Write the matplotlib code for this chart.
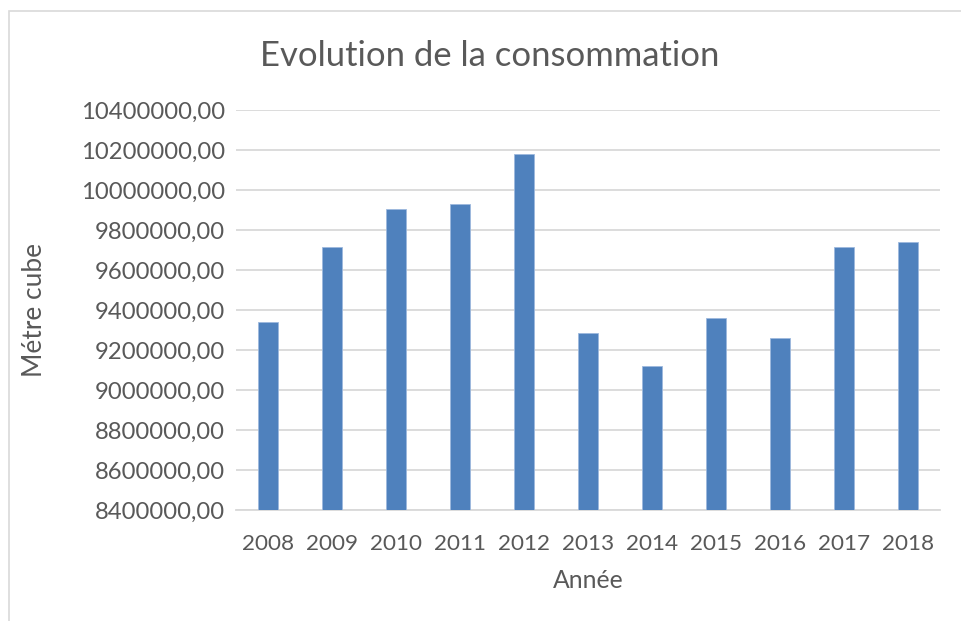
import matplotlib
matplotlib.use("Agg")
import matplotlib.pyplot as plt
from matplotlib.ticker import FuncFormatter
from matplotlib.patches import Rectangle

years = ["2008", "2009", "2010", "2011", "2012", "2013", "2014", "2015", "2016", "2017", "2018"]
consommation = [9339000, 9714000, 9906000, 9932500, 10181000, 9286000, 9122500, 9362500, 9259000, 9714000, 9742500]
yticks = [8400000, 8600000, 8800000, 9000000, 9200000, 9400000, 9600000, 9800000, 10000000, 10200000, 10400000]

txt = "#595959"
plt.rcParams['font.family'] = ['Lato', 'DejaVu Sans']

fig = plt.figure(figsize=(9.62, 6.21), dpi=100)
W, H = 962, 621
ax = fig.add_axes([236 / W, 1 - 510 / H, (940 - 236) / W, 400 / H])

x = list(range(len(years)))
ax.bar(x, consommation, width=0.31, color="#4F81BD", edgecolor="#9DB9DD", linewidth=0.6, zorder=3)
ax.set_xlim(-0.5, len(years) - 0.5)
ax.set_ylim(yticks[0], yticks[-1])
ax.set_yticks(yticks)
ax.yaxis.set_major_formatter(FuncFormatter(lambda v, p: f"{int(round(v))},00"))
ax.set_xticks(x)
ax.set_xticklabels(years)
ax.grid(axis="y", color="#D9D9D9", linewidth=1.3, zorder=0)
for s in ["top", "right", "left"]:
    ax.spines[s].set_visible(False)
ax.spines["bottom"].set_color("#D9D9D9")
ax.spines["bottom"].set_linewidth(1.3)
ax.tick_params(axis="both", length=0, colors=txt)
ax.tick_params(axis="y", pad=8, labelsize=17.2)
ax.tick_params(axis="x", pad=17, labelsize=16.2)

fig.text(490 / W, 1 - 56 / H, "Evolution de la consommation", ha="center", va="center", fontsize=24.9, color=txt)
fig.text(588 / W, 1 - 581 / H, "Année", ha="center", va="center", fontsize=17.8, color=txt)
fig.text(35 / W, 1 - 310 / H, "Métre cube", ha="center", va="center", rotation=90, fontsize=18.9, color=txt)

fig.add_artist(Rectangle((9 / W, -0.1), 1.2, 1 - 11 / H + 0.1, transform=fig.transFigure,
                         fill=False, edgecolor="#D9D9D9", linewidth=1.2))

fig.savefig("out.png", dpi=100)
